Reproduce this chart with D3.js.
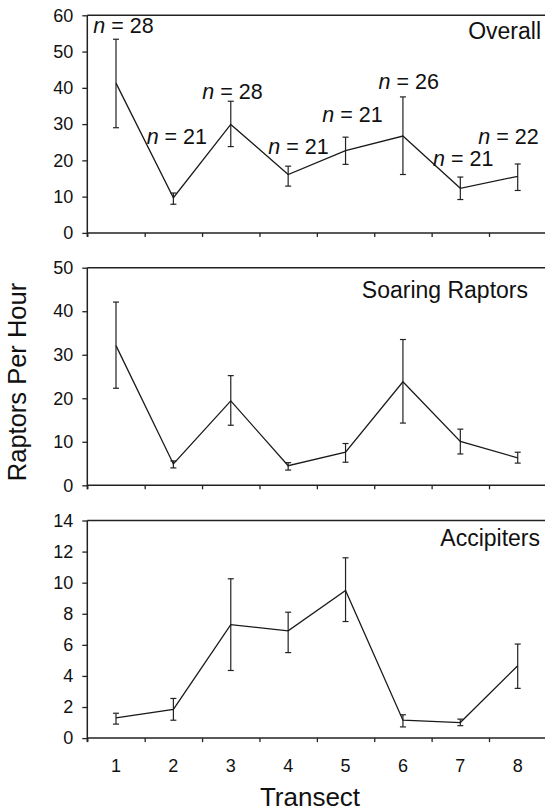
<!DOCTYPE html>
<html>
<head>
<meta charset="utf-8">
<script src="https://cdn.jsdelivr.net/npm/d3@7"></script>
<style>
  body { margin: 0; background: #fff; }
  text { font-family: "Liberation Sans", Arial, sans-serif; fill: #111; }
</style>
</head>
<body>
<script>
// Transects on the x axis
const transects = [1, 2, 3, 4, 5, 6, 7, 8];

// Overall raptors per hour (mean, upper and lower end of error bar)
const overallMean  = [41.3, 9.7, 29.9, 16.1, 22.7, 26.7, 12.3, 15.6];
const overallHigh  = [53.4, 11.0, 36.3, 18.4, 26.4, 37.5, 15.4, 19.0];
const overallLow   = [29.0, 7.9, 23.8, 12.9, 18.9, 16.1, 9.2, 11.7];
const overallN     = [28, 21, 28, 21, 21, 26, 21, 22];

// Soaring raptors
const soaringMean  = [32.1, 4.9, 19.4, 4.5, 7.6, 23.8, 10.1, 6.3];
const soaringHigh  = [42.1, 5.6, 25.2, 5.2, 9.6, 33.5, 12.9, 7.6];
const soaringLow   = [22.3, 4.0, 13.8, 3.5, 5.3, 14.3, 7.2, 5.1];

// Accipiters
const accipMean    = [1.3, 1.85, 7.3, 6.9, 9.5, 1.15, 1.0, 4.65];
const accipHigh    = [1.6, 2.55, 10.25, 8.1, 11.6, 1.5, 1.22, 6.05];
const accipLow     = [0.9, 1.15, 4.35, 5.5, 7.5, 0.72, 0.8, 3.2];

// y axis maxima and tick steps per panel
const yMax   = [60, 50, 14];
const yStep  = [10, 10, 2];
const titles = ["Overall", "Soaring Raptors", "Accipiters"];

// where the n labels sit (transect units, value units of the top panel)
const nLabelX = [1.13, 2.06, 3.03, 4.18, 5.12, 6.10, 7.05, 7.84];
const nLabelY = [55.0, 24.4, 36.9, 21.7, 30.5, 39.6, 18.5, 24.4];

const width = 545, height = 810;
const left = 87.3, right = 546.4;
const panelTop = [15.3, 267.7, 520.5];
const panelH = 217.6;
const titleRight = [541, 528, 540];
const titleBase = [24, 30.6, 25];

const svg = d3.select("body").append("svg")
    .attr("width", width)
    .attr("height", height);

const x = d3.scaleLinear().domain([0.5, 8.5]).range([left, right]);

const series = [
    { mean: overallMean, high: overallHigh, low: overallLow },
    { mean: soaringMean, high: soaringHigh, low: soaringLow },
    { mean: accipMean, high: accipHigh, low: accipLow }
];

series.forEach(function(s, p) {
    const top = panelTop[p];
    const bottom = top + panelH;
    const y = d3.scaleLinear().domain([0, yMax[p]]).range([bottom, top]);
    const g = svg.append("g");

    const rows = transects.map(function(t, i) {
        return { t: t, mean: s.mean[i], high: s.high[i], low: s.low[i] };
    });

    // frame top line
    g.append("line")
        .attr("x1", left).attr("x2", width + 5)
        .attr("y1", top).attr("y2", top)
        .attr("stroke", "#222").attr("stroke-width", 1.5);

    // y axis
    const yAxis = d3.axisLeft(y)
        .tickValues(d3.range(0, yMax[p] + 0.001, yStep[p]))
        .tickSize(5).tickPadding(9);
    const ya = g.append("g")
        .attr("transform", "translate(" + left + ",0)")
        .call(yAxis);
    ya.select(".domain").attr("stroke", "#222").attr("stroke-width", 1.5)
        .attr("d", "M0," + (bottom + 4) + "V" + top);
    ya.selectAll(".tick line").attr("stroke", "#222").attr("stroke-width", 1.3);
    ya.selectAll(".tick text").style("font-size", "18px").attr("fill", "#111");

    // x axis with ticks between transects
    const xAxis = d3.axisBottom(x)
        .tickValues(d3.range(0.5, 9, 1))
        .tickSize(4).tickFormat("");
    const xa = g.append("g")
        .attr("transform", "translate(0," + bottom + ")")
        .call(xAxis);
    xa.select(".domain").attr("stroke", "#222").attr("stroke-width", 1.5)
        .attr("d", "M" + left + ",0H" + (width + 5));
    xa.selectAll(".tick line").attr("stroke", "#222").attr("stroke-width", 1.3);

    // error bars
    const eb = g.selectAll(".err").data(rows).enter().append("g").attr("class", "err");
    eb.append("line")
        .attr("x1", function(d) { return x(d.t); })
        .attr("x2", function(d) { return x(d.t); })
        .attr("y1", function(d) { return y(d.low); })
        .attr("y2", function(d) { return y(d.high); })
        .attr("stroke", "#222").attr("stroke-width", 1.2);
    [["high"], ["low"]].forEach(function(k) {
        eb.append("line")
            .attr("x1", function(d) { return x(d.t) - 3; })
            .attr("x2", function(d) { return x(d.t) + 3; })
            .attr("y1", function(d) { return y(d[k[0]]); })
            .attr("y2", function(d) { return y(d[k[0]]); })
            .attr("stroke", "#222").attr("stroke-width", 1.2);
    });

    // mean line
    const line = d3.line()
        .x(function(d) { return x(d.t); })
        .y(function(d) { return y(d.mean); });
    g.append("path")
        .datum(rows)
        .attr("d", line)
        .attr("fill", "none")
        .attr("stroke", "#1a1a1a")
        .attr("stroke-width", 1.3);

    // panel title
    g.append("text")
        .attr("x", titleRight[p])
        .attr("y", top + titleBase[p])
        .attr("text-anchor", "end")
        .style("font-size", "23px")
        .text(titles[p]);

    // sample sizes in the top panel
    if (p === 0) {
        const nt = g.selectAll(".nlab").data(overallN).enter().append("text")
            .attr("class", "nlab")
            .attr("x", function(d, i) { return x(nLabelX[i]); })
            .attr("y", function(d, i) { return y(nLabelY[i]); })
            .attr("text-anchor", "middle")
            .style("font-size", "21.5px");
        nt.append("tspan").style("font-style", "italic").text("n");
        nt.append("tspan").text(function(d) { return " = " + d; });
    }

    // transect numbers under the last panel
    if (p === 2) {
        g.selectAll(".xlab").data(transects).enter().append("text")
            .attr("x", function(d) { return x(d); })
            .attr("y", 772)
            .attr("text-anchor", "middle")
            .style("font-size", "18px")
            .text(function(d) { return d; });
    }
});

// axis titles
svg.append("text")
    .attr("transform", "translate(26,382) rotate(-90)")
    .attr("text-anchor", "middle")
    .style("font-size", "25.5px")
    .text("Raptors Per Hour");

svg.append("text")
    .attr("x", 310)
    .attr("y", 806)
    .attr("text-anchor", "middle")
    .style("font-size", "26px")
    .text("Transect");
</script>
</body>
</html>
